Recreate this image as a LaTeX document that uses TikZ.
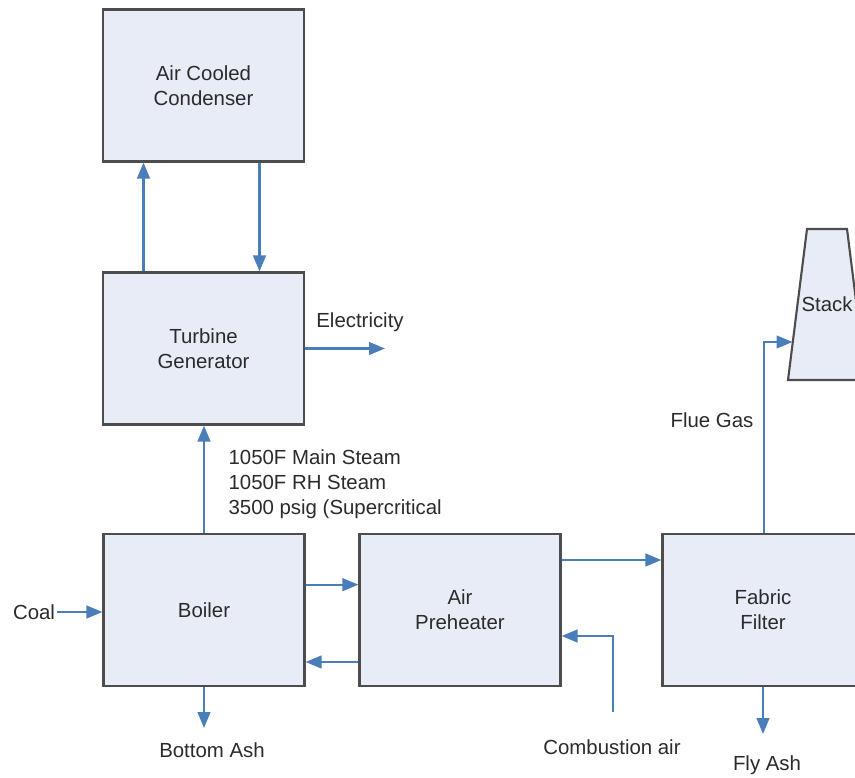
\documentclass[tikz,border=0pt]{standalone}
\usepackage{fontspec}
\setmainfont{Liberation Sans}
\usepackage{tikz}
\usetikzlibrary{positioning, calc, arrows.meta}
\definecolor{Flow}{HTML}{4A7EBB}
\definecolor{UnitFill}{HTML}{E8ECF7}
\definecolor{UnitEdge}{HTML}{4D4D4D}
\definecolor{Ink}{HTML}{2B2B2B}

\begin{document}
\begin{tikzpicture}[x=0.75pt, y=-0.75pt,
    every node/.style={font=\fontsize{15.3}{18.9}\selectfont, text=Ink},
    unit/.style={rectangle, draw=UnitEdge, fill=UnitFill, line width=1.6pt,
        minimum width=150.75pt, minimum height=114pt, align=center},
    flow/.style={draw=Flow, line width=1.7pt,
        -{Triangle[length=12pt, width=9.5pt, fill=Flow]}},
    tag/.style={inner sep=1pt}]
\fill[white] (0,0) rectangle (855,777);
\useasboundingbox (0,0) rectangle (855,777);
\clip (0,0) rectangle (855,777);

% process units
\node[unit] (condenser) at (203.5,85.5) {Air Cooled\\Condenser};
\node[unit] (turbine) at (203.5,348.5) {Turbine\\Generator};
\node[unit] (boiler) at (204,610) {Boiler};
\node[unit] (preheater) at (460,610) {Air\\Preheater};
\node[unit] (filter) at (763,610) {Fabric\\Filter};

% stack
\filldraw[draw=UnitEdge, fill=UnitFill, line width=1.6pt]
    (807,229) -- (847,229) -- (866,380) -- (788,380) -- cycle;
\node[tag] (stack) at (827,304) {Stack};
\coordinate (stackin) at (792.5,342);

% labels
\node[tag] (coal) at (34,612) {Coal};
\node[tag] (power) at (360,322) {Electricity};
\node[tag, anchor=north west, align=left] (steam) at (227,448)
    {1050F Main Steam\\1050F RH Steam\\3500 psig (Supercritical};
\node[tag] (bash) at (212,750) {Bottom Ash};
\node[tag] (comb) at (612,747) {Combustion air};
\node[tag] (flyash) at (767,765) {Fly Ash};
\node[tag] (flue) at (712,420) {Flue Gas};

\coordinate (powerout) at (385,349);
\coordinate (bashout) at (205,728);
\coordinate (airin) at (613,712);
\coordinate (flyout) at (763,734);

% connectors
\draw[flow] ([xshift=-45pt]turbine.north) -- ([xshift=-45pt]condenser.south);
\draw[flow] ([xshift=42pt]condenser.south) -- ([xshift=42pt]turbine.north);
\draw[flow] (turbine.east) -- (turbine.east -| powerout);
\draw[flow] (boiler.north) -- (boiler.north |- turbine.south);
\draw[flow] (coal.east) -- (coal.east -| boiler.west);
\draw[flow] (boiler.south) -- (boiler.south |- bashout);
\draw[flow] ([yshift=19pt]boiler.east) -- ([yshift=19pt]preheater.west);
\draw[flow] ([yshift=-39pt]preheater.west) -- ([yshift=-39pt]boiler.east);
\draw[flow] (airin) |- ([yshift=-19.5pt]preheater.east);
\draw[flow] ([yshift=37.5pt]preheater.east) -- ([yshift=37.5pt]filter.west);
\draw[flow] ([xshift=0.75pt]filter.north) |- (stackin);
\draw[flow] (filter.south) -- (flyout);
\end{tikzpicture}
\end{document}
